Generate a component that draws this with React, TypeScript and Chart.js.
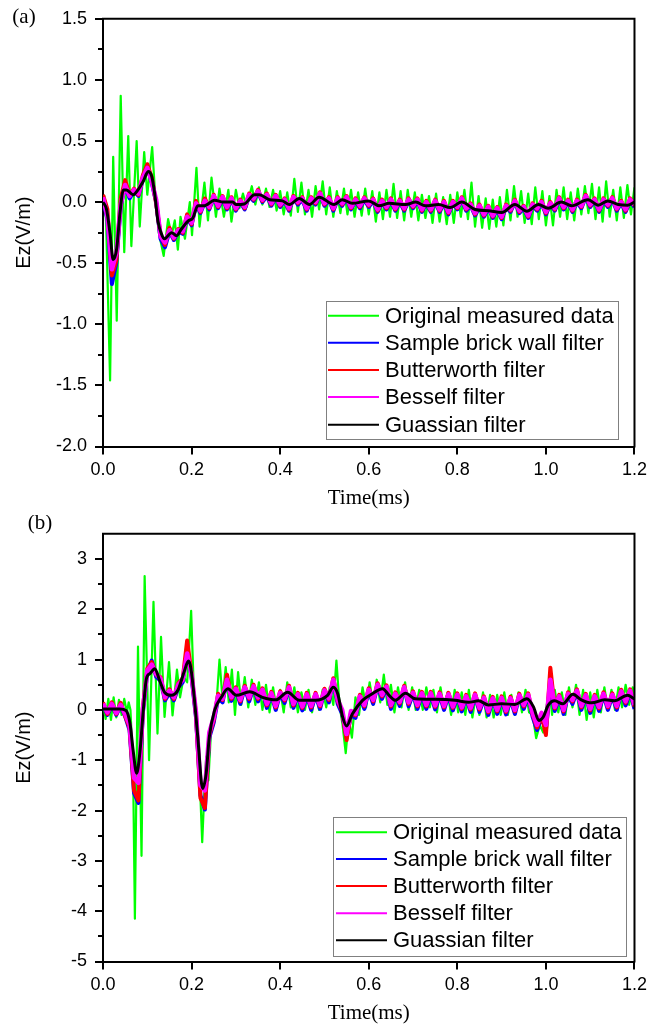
import React, { useEffect, useRef } from 'react';
import { Chart, registerables } from 'chart.js';

Chart.register(...registerables);

const SANS = '"Liberation Sans", Arial, Helvetica, sans-serif';
const SERIF = '"Liberation Serif", "Times New Roman", serif';

const SERIES_LABELS = [
  'Original measured data',
  'Sample brick wall filter',
  'Butterworth filter',
  'Besself filter',
  'Guassian filter',
];
const SERIES_COLORS = ['#00ff00', '#0000ff', '#ff0000', '#ff00ff', '#000000'];
const SERIES_WIDTHS = [2.2, 4, 4, 4.5, 3];

const X_LABEL = 'Time(ms)';
const Y_LABEL = 'Ez(V/m)';

// shared time grid (ms) of the filtered signals
const T_GRID = [
  0, 0.01, 0.02, 0.03, 0.04, 0.05, 0.06, 0.07, 0.08, 0.09,
  0.1, 0.11, 0.12, 0.13, 0.14, 0.15, 0.16, 0.17, 0.18, 0.19,
  0.2, 0.21, 0.22, 0.23, 0.24, 0.25, 0.26, 0.27, 0.28, 0.29,
  0.3, 0.31, 0.32, 0.33, 0.34, 0.35, 0.36, 0.37, 0.38, 0.39,
  0.4, 0.41, 0.42, 0.43, 0.44, 0.45, 0.46, 0.47, 0.48, 0.49,
  0.5, 0.51, 0.52, 0.53, 0.54, 0.55, 0.56, 0.57, 0.58, 0.59,
  0.6, 0.61, 0.62, 0.63, 0.64, 0.65, 0.66, 0.67, 0.68, 0.69,
  0.7, 0.71, 0.72, 0.73, 0.74, 0.75, 0.76, 0.77, 0.78, 0.79,
  0.8, 0.81, 0.82, 0.83, 0.84, 0.85, 0.86, 0.87, 0.88, 0.89,
  0.9, 0.91, 0.92, 0.93, 0.94, 0.95, 0.96, 0.97, 0.98, 0.99,
  1.0, 1.01, 1.02, 1.03, 1.04, 1.05, 1.06, 1.07, 1.08, 1.09,
  1.1, 1.11, 1.12, 1.13, 1.14, 1.15, 1.16, 1.17, 1.18, 1.19,
  1.2,
];

// ---------------- panel (a) ----------------
const A_GREEN: [number, number][] = [
  [0, 0], [0.003, 0.05], [0.007, -0.16], [0.016, -1.46], [0.023, 0.37], [0.031, -0.97],
  [0.04, 0.87], [0.048, -0.41], [0.057, 0.54], [0.064, -0.36], [0.076, 0.5], [0.083, -0.2],
  [0.093, 0.41], [0.1, 0.06], [0.111, 0.45], [0.118, 0.05], [0.126, -0.25], [0.137, -0.44],
  [0.147, -0.14], [0.155, -0.27], [0.162, -0.15], [0.169, -0.39], [0.175, -0.12], [0.185, -0.3],
  [0.196, 0.0], [0.201, -0.27], [0.211, 0.28], [0.218, -0.2], [0.229, 0.16], [0.237, -0.15],
  [0.245, 0.2], [0.255, -0.12], [0.263, 0.11], [0.273, -0.12], [0.283, 0.1], [0.29, -0.16],
  [0.3, 0.1], [0.308, -0.05], [0.316, 0.07], [0.324, -0.04], [0.336, 0.13], [0.344, -0.02],
  [0.352, 0.12], [0.36, -0.02], [0.368, 0.11], [0.376, -0.04], [0.384, 0.1], [0.392, -0.07],
  [0.4, 0.09], [0.408, -0.1], [0.416, 0.08], [0.424, -0.11], [0.432, 0.19], [0.44, -0.08],
  [0.448, 0.16], [0.456, -0.1], [0.464, 0.1], [0.472, -0.12], [0.48, 0.13], [0.488, -0.06],
  [0.496, 0.17], [0.504, -0.1], [0.512, 0.12], [0.52, -0.12], [0.528, 0.09], [0.536, -0.09],
  [0.544, 0.11], [0.552, -0.1], [0.56, 0.1], [0.568, -0.12], [0.576, 0.08], [0.584, -0.11],
  [0.592, 0.11], [0.6, -0.1], [0.608, 0.09], [0.616, -0.16], [0.624, 0.08], [0.632, -0.14],
  [0.64, 0.1], [0.648, -0.12], [0.656, 0.15], [0.664, -0.13], [0.672, 0.09], [0.68, -0.15],
  [0.688, 0.1], [0.696, -0.12], [0.704, 0.08], [0.712, -0.15], [0.72, 0.06], [0.728, -0.13],
  [0.736, 0.05], [0.744, -0.17], [0.752, 0.07], [0.76, -0.16], [0.768, 0.04], [0.776, -0.18],
  [0.784, 0.06], [0.792, -0.17], [0.8, 0.08], [0.808, -0.12], [0.816, 0.1], [0.824, -0.14],
  [0.832, 0.16], [0.84, -0.2], [0.848, 0.05], [0.856, -0.21], [0.864, 0.03], [0.872, -0.22],
  [0.88, 0.02], [0.888, -0.2], [0.896, 0.04], [0.904, -0.19], [0.912, 0.1], [0.92, -0.15],
  [0.928, 0.13], [0.936, -0.12], [0.944, 0.09], [0.952, -0.17], [0.96, 0.07], [0.968, -0.18],
  [0.976, 0.12], [0.984, -0.14], [0.992, 0.09], [1.0, -0.19], [1.008, 0.05], [1.016, -0.19],
  [1.024, 0.1], [1.032, -0.12], [1.04, 0.12], [1.048, -0.14], [1.056, 0.08], [1.064, -0.15],
  [1.072, 0.11], [1.08, -0.1], [1.088, 0.13], [1.096, -0.09], [1.104, 0.15], [1.112, -0.14],
  [1.12, 0.12], [1.128, -0.16], [1.136, 0.17], [1.144, -0.12], [1.152, 0.1], [1.16, -0.15],
  [1.168, 0.12], [1.176, -0.13], [1.184, 0.14], [1.192, -0.1], [1.2, 0.12],
];

const A_BLUE = [
  0.02, -0.14, -0.67, -0.5, -0.03, 0.13, 0.03, 0.09, 0.05, 0.19,
  0.29, 0.16, 0.0, -0.3, -0.37, -0.24, -0.31, -0.24, -0.26, -0.13,
  -0.19, -0.02, -0.09, 0.0, -0.06, 0.04, -0.05, 0.03, -0.06, 0.02,
  -0.07, 0.0, -0.06, 0.05, 0.01, 0.08, 0.0, 0.05, -0.03, 0.04,
  -0.04, 0.01, -0.07, 0.03, -0.02, 0.02, -0.07, 0.02, -0.02, 0.06,
  -0.03, 0.02, -0.07, 0.02, -0.03, 0.03, -0.06, 0.01, -0.05, 0.02,
  -0.04, 0.01, -0.08, 0.0, -0.06, 0.01, -0.07, 0.0, -0.07, 0.01,
  -0.05, 0.01, -0.08, -0.01, -0.08, 0.0, -0.08, -0.01, -0.1, -0.01,
  -0.06, 0.02, -0.07, -0.03, -0.11, -0.04, -0.12, -0.05, -0.13, -0.06,
  -0.14, -0.04, -0.08, 0.0, -0.09, -0.05, -0.13, -0.03, -0.07, -0.01,
  -0.1, -0.02, -0.07, 0.02, -0.06, 0.0, -0.08, 0.0, -0.05, 0.04,
  -0.04, 0.01, -0.08, 0.01, -0.04, 0.02, -0.07, -0.01, -0.08, 0.01,
  -0.04,
];

const A_RED = [
  0.06, -0.06, -0.6, -0.48, 0.03, 0.18, 0.06, 0.11, 0.06, 0.22,
  0.31, 0.2, -0.01, -0.27, -0.35, -0.21, -0.3, -0.22, -0.25, -0.1,
  -0.18, 0.01, -0.08, 0.03, -0.05, 0.06, -0.04, 0.05, -0.05, 0.04,
  -0.06, 0.02, -0.05, 0.07, 0.02, 0.1, 0.01, 0.07, -0.02, 0.06,
  -0.03, 0.03, -0.06, 0.05, -0.01, 0.04, -0.06, 0.04, -0.01, 0.08,
  -0.02, 0.04, -0.06, 0.04, -0.02, 0.05, -0.05, 0.03, -0.04, 0.04,
  -0.03, 0.03, -0.07, 0.02, -0.05, 0.03, -0.06, 0.02, -0.06, 0.03,
  -0.04, 0.03, -0.07, 0.01, -0.07, 0.02, -0.07, 0.01, -0.09, 0.01,
  -0.05, 0.04, -0.06, -0.01, -0.1, -0.02, -0.11, -0.03, -0.12, -0.04,
  -0.13, -0.02, -0.07, 0.02, -0.08, -0.03, -0.12, -0.01, -0.06, 0.01,
  -0.09, 0.0, -0.06, 0.04, -0.05, 0.02, -0.07, 0.02, -0.04, 0.06,
  -0.03, 0.03, -0.07, 0.03, -0.03, 0.04, -0.06, 0.01, -0.07, 0.03,
  -0.03,
];

const A_MAGENTA = [
  0.04, -0.12, -0.55, -0.42, -0.02, 0.14, 0.05, 0.1, 0.07, 0.2,
  0.28, 0.17, 0.02, -0.28, -0.33, -0.23, -0.29, -0.23, -0.24, -0.12,
  -0.17, -0.01, -0.07, 0.01, -0.04, 0.05, -0.03, 0.04, -0.04, 0.03,
  -0.05, 0.01, -0.04, 0.06, 0.03, 0.09, 0.02, 0.06, -0.01, 0.05,
  -0.02, 0.02, -0.05, 0.04, 0.0, 0.03, -0.05, 0.03, 0.0, 0.07,
  -0.01, 0.03, -0.05, 0.03, -0.01, 0.04, -0.04, 0.02, -0.03, 0.03,
  -0.02, 0.02, -0.06, 0.01, -0.04, 0.02, -0.05, 0.01, -0.05, 0.02,
  -0.03, 0.02, -0.06, 0.0, -0.06, 0.01, -0.06, 0.0, -0.08, 0.0,
  -0.04, 0.03, -0.05, -0.02, -0.09, -0.03, -0.1, -0.04, -0.11, -0.05,
  -0.12, -0.03, -0.06, 0.01, -0.07, -0.04, -0.11, -0.02, -0.05, 0.0,
  -0.08, -0.01, -0.05, 0.03, -0.04, 0.01, -0.06, 0.01, -0.03, 0.05,
  -0.02, 0.02, -0.06, 0.02, -0.02, 0.03, -0.05, 0.0, -0.06, 0.02,
  -0.02,
];

const A_BLACK: [number, number][] = [
  [0, 0], [0.008, -0.06], [0.016, -0.26], [0.023, -0.47], [0.031, -0.38], [0.038, -0.1],
  [0.046, 0.1], [0.053, 0.1], [0.068, 0.06], [0.079, 0.1], [0.091, 0.17], [0.102, 0.25],
  [0.11, 0.21], [0.117, 0.06], [0.124, -0.155], [0.132, -0.26], [0.139, -0.3], [0.155, -0.25],
  [0.166, -0.275], [0.177, -0.22], [0.192, -0.155], [0.203, -0.13], [0.214, -0.03], [0.229, -0.03],
  [0.252, 0.016], [0.271, 0], [0.293, 0], [0.3, -0.02], [0.319, -0.015], [0.342, 0.06],
  [0.353, 0.06], [0.376, 0.02], [0.405, 0.01], [0.421, -0.02], [0.443, 0.03], [0.466, -0.02],
  [0.488, 0.04], [0.522, -0.02], [0.54, 0.02], [0.563, -0.01], [0.6, 0.01], [0.623, -0.03],
  [0.646, -0.01], [0.683, -0.02], [0.706, 0.0], [0.728, -0.03], [0.758, -0.02], [0.784, -0.045],
  [0.81, 0.0], [0.84, -0.06], [0.87, -0.07], [0.9, -0.085], [0.93, -0.02], [0.957, -0.075],
  [0.983, -0.02], [1.005, -0.05], [1.035, 0.0], [1.058, -0.03], [1.095, 0.02], [1.118, -0.025],
  [1.14, 0.01], [1.163, -0.02], [1.185, -0.025], [1.2, 0.0],
];

// ---------------- panel (b) ----------------
const B_GREEN: [number, number][] = [
  [0, 0.15], [0.006, -0.18], [0.012, 0.22], [0.018, -0.2], [0.024, 0.25], [0.03, -0.15],
  [0.036, 0.2], [0.042, -0.1], [0.048, 0.22], [0.054, -0.05], [0.058, 0.15], [0.062, 0.0],
  [0.068, -1.2], [0.072, -4.15], [0.079, 1.26], [0.087, -2.9], [0.094, 2.66], [0.104, -1.0],
  [0.114, 2.15], [0.123, -0.47], [0.131, 1.45], [0.139, -0.14], [0.149, 0.95], [0.157, -0.11],
  [0.167, 0.8], [0.174, 0.25], [0.182, 0.65], [0.19, 0.55], [0.199, 1.97], [0.205, 0.4],
  [0.212, -0.6], [0.218, -1.3], [0.224, -2.63], [0.229, -1.6], [0.233, -0.93], [0.238, -1.4],
  [0.244, -0.4], [0.25, -0.3], [0.256, 0.1], [0.263, 1.0], [0.27, 0.2], [0.277, 0.85],
  [0.284, 0.15], [0.291, 0.8], [0.298, -0.1], [0.305, 0.75], [0.312, 0.1], [0.32, 0.65],
  [0.328, 0.05], [0.336, 0.6], [0.344, 0.1], [0.352, 0.55], [0.36, 0.0], [0.368, 0.5],
  [0.376, -0.05], [0.384, 0.45], [0.392, 0.0], [0.4, 0.4], [0.408, -0.05], [0.416, 0.55],
  [0.424, 0.05], [0.432, 0.45], [0.44, -0.05], [0.448, 0.35], [0.456, 0.0], [0.464, 0.4],
  [0.472, -0.05], [0.48, 0.35], [0.488, 0.0], [0.496, 0.4], [0.504, 0.05], [0.512, 0.45],
  [0.52, 0.1], [0.527, 0.98], [0.534, 0.1], [0.541, -0.3], [0.548, -0.86], [0.555, -0.2],
  [0.562, -0.55], [0.57, 0.25], [0.578, -0.1], [0.586, 0.45], [0.594, 0.05], [0.602, 0.55],
  [0.61, 0.1], [0.618, 0.6], [0.626, 0.15], [0.634, 0.7], [0.642, 0.1], [0.65, 0.5],
  [0.658, -0.05], [0.666, 0.45], [0.674, 0.05], [0.682, 0.55], [0.69, 0.0], [0.698, 0.45],
  [0.706, 0.0], [0.714, 0.4], [0.722, 0.0], [0.73, 0.45], [0.738, 0.05], [0.746, 0.4],
  [0.754, -0.05], [0.762, 0.45], [0.77, 0.0], [0.778, 0.35], [0.786, -0.1], [0.794, 0.4],
  [0.802, -0.05], [0.81, 0.35], [0.818, -0.1], [0.826, 0.4], [0.834, -0.15], [0.842, 0.3],
  [0.85, -0.1], [0.858, 0.35], [0.866, -0.15], [0.874, 0.3], [0.882, -0.15], [0.89, 0.3],
  [0.898, -0.1], [0.906, 0.35], [0.914, -0.1], [0.922, 0.3], [0.93, -0.1], [0.938, 0.35],
  [0.946, -0.05], [0.954, 0.4], [0.962, -0.05], [0.97, -0.1], [0.978, -0.56], [0.986, -0.3],
  [0.994, -0.45], [1.002, 0.1], [1.008, 0.45], [1.014, -0.1], [1.02, 0.4], [1.028, -0.05],
  [1.036, 0.35], [1.044, -0.1], [1.052, 0.45], [1.06, 0.05], [1.068, 0.5], [1.076, -0.1],
  [1.084, 0.4], [1.092, -0.2], [1.1, 0.35], [1.108, -0.15], [1.116, 0.4], [1.124, -0.05],
  [1.132, 0.45], [1.14, 0.0], [1.148, 0.4], [1.156, 0.0], [1.164, 0.45], [1.172, 0.05],
  [1.18, 0.5], [1.188, 0.1], [1.196, 0.45], [1.2, 0.2],
];

const B_BLUE = [
  0.1, -0.1, 0.1, -0.1, 0.08, -0.13, -0.4, -1.65, -1.85, -0.05,
  0.76, 0.98, 0.66, 0.58, 0.19, 0.33, 0.19, 0.45, 0.55, 1.2,
  0.65, -0.15, -1.7, -1.98, -0.55, -0.25, 0.24, 0.15, 0.62, 0.18,
  0.4, 0.12, 0.43, 0.17, 0.45, 0.17, 0.38, 0.04, 0.31, 0.0,
  0.32, 0.14, 0.43, 0.04, 0.29, -0.01, 0.29, 0.0, 0.29, 0.02,
  0.37, 0.15, 0.58, 0.12, -0.08, -0.55, -0.1, -0.16, 0.25, 0.02,
  0.38, 0.12, 0.48, 0.22, 0.44, 0.02, 0.3, 0.08, 0.43, 0.07,
  0.32, 0.02, 0.31, 0.02, 0.31, 0.01, 0.3, 0.0, 0.29, -0.01,
  0.28, -0.03, 0.25, -0.04, 0.28, -0.04, 0.22, -0.1, 0.21, -0.08,
  0.22, -0.09, 0.21, -0.08, 0.27, 0.02, 0.28, -0.14, -0.4, -0.14,
  -0.4, 0.45, -0.02, 0.25, -0.08, 0.3, 0.12, 0.36, 0.0, 0.27,
  -0.06, 0.25, -0.02, 0.3, 0.0, 0.28, 0.0, 0.35, 0.09, 0.36,
  0.02,
];

const B_RED = [
  0.15, -0.08, 0.15, -0.08, 0.14, -0.12, -0.35, -1.6, -1.8, 0.05,
  0.82, 0.95, 0.7, 0.65, 0.22, 0.41, 0.22, 0.53, 0.62, 1.38,
  0.72, -0.1, -1.75, -1.95, -0.5, -0.2, 0.32, 0.2, 0.7, 0.22,
  0.45, 0.17, 0.48, 0.22, 0.5, 0.22, 0.43, 0.09, 0.36, 0.05,
  0.37, 0.19, 0.48, 0.09, 0.34, 0.04, 0.34, 0.05, 0.34, 0.07,
  0.42, 0.2, 0.63, 0.17, -0.03, -0.6, -0.05, -0.11, 0.3, 0.07,
  0.43, 0.17, 0.53, 0.27, 0.49, 0.07, 0.35, 0.13, 0.48, 0.12,
  0.37, 0.07, 0.36, 0.07, 0.36, 0.06, 0.35, 0.05, 0.34, 0.04,
  0.33, 0.02, 0.3, 0.01, 0.33, 0.01, 0.27, -0.05, 0.26, -0.03,
  0.27, -0.04, 0.26, -0.03, 0.32, 0.07, 0.33, -0.09, -0.35, -0.09,
  -0.5, 0.84, 0.03, 0.3, -0.03, 0.35, 0.17, 0.41, 0.05, 0.32,
  -0.01, 0.3, 0.03, 0.35, 0.05, 0.33, 0.05, 0.4, 0.14, 0.41,
  0.07,
];

const B_MAGENTA = [
  0.12, -0.05, 0.12, -0.06, 0.1, -0.08, -0.3, -1.35, -1.45, 0.0,
  0.78, 0.9, 0.72, 0.62, 0.25, 0.38, 0.25, 0.5, 0.6, 1.12,
  0.7, -0.05, -1.5, -1.6, -0.45, -0.15, 0.28, 0.22, 0.6, 0.25,
  0.42, 0.2, 0.45, 0.25, 0.47, 0.25, 0.4, 0.12, 0.33, 0.08,
  0.34, 0.22, 0.45, 0.12, 0.31, 0.07, 0.31, 0.08, 0.31, 0.1,
  0.39, 0.23, 0.6, 0.2, 0.0, -0.48, -0.02, -0.08, 0.27, 0.1,
  0.4, 0.2, 0.5, 0.3, 0.46, 0.1, 0.32, 0.16, 0.45, 0.15,
  0.34, 0.1, 0.33, 0.1, 0.33, 0.09, 0.32, 0.08, 0.31, 0.07,
  0.3, 0.05, 0.27, 0.04, 0.3, 0.04, 0.24, -0.02, 0.23, 0.0,
  0.24, -0.01, 0.23, 0.0, 0.29, 0.1, 0.3, -0.06, -0.3, -0.06,
  -0.3, 0.6, 0.06, 0.27, 0.0, 0.32, 0.2, 0.38, 0.08, 0.29,
  0.02, 0.27, 0.06, 0.32, 0.08, 0.3, 0.08, 0.37, 0.17, 0.38,
  0.1,
];

const B_BLACK: [number, number][] = [
  [0, 0.02], [0.016, 0.02], [0.038, 0.02], [0.052, -0.01], [0.061, -0.27], [0.068, -0.8],
  [0.076, -1.26], [0.083, -0.87], [0.091, -0.01], [0.098, 0.62], [0.106, 0.72], [0.117, 0.82],
  [0.128, 0.58], [0.139, 0.35], [0.154, 0.29], [0.169, 0.39], [0.184, 0.78], [0.193, 0.97],
  [0.198, 0.85], [0.206, 0.25], [0.214, -0.54], [0.225, -1.56], [0.233, -1.26], [0.24, -0.54],
  [0.252, -0.01], [0.267, 0.25], [0.282, 0.42], [0.301, 0.29], [0.331, 0.36], [0.36, 0.25],
  [0.39, 0.2], [0.417, 0.35], [0.443, 0.19], [0.48, 0.19], [0.507, 0.29], [0.52, 0.45],
  [0.53, 0.32], [0.541, -0.14], [0.55, -0.32], [0.563, -0.08], [0.586, 0.19], [0.608, 0.32],
  [0.631, 0.42], [0.646, 0.29], [0.66, 0.19], [0.683, 0.33], [0.705, 0.22], [0.75, 0.21],
  [0.795, 0.19], [0.825, 0.15], [0.848, 0.18], [0.87, 0.1], [0.9, 0.12], [0.93, 0.11],
  [0.957, 0.22], [0.972, 0.06], [0.984, -0.21], [0.994, -0.14], [1.005, 0.09], [1.02, 0.18],
  [1.038, 0.12], [1.061, 0.31], [1.08, 0.2], [1.103, 0.14], [1.133, 0.2], [1.155, 0.18],
  [1.184, 0.29], [1.2, 0.22],
];

type LegendCfg = {
  box: [number, number, number, number];
  lineX: [number, number];
  textX: number;
  rows: number[];
};

type PanelCfg = {
  letter: string;
  letterPos: [number, number];
  top: number;
  green: [number, number][];
  blue: number[];
  red: number[];
  magenta: number[];
  black: [number, number][];
  yMin: number;
  yMax: number;
  yStep: number;
  yMajor: number;
  yDecimals: number;
  legend: LegendCfg;
};

const W = 652;
const H = 515;

function Panel({ cfg }: { cfg: PanelCfg }) {
  const ref = useRef<HTMLCanvasElement | null>(null);

  useEffect(() => {
    if (!ref.current) return;
    const grid = (vals: number[]) => T_GRID.map((t, i) => ({ x: t, y: vals[i] }));
    const pairs = (p: [number, number][]) => p.map(([x, y]) => ({ x, y }));
    const isMajor = (v: number) =>
      Math.abs(v / cfg.yMajor - Math.round(v / cfg.yMajor)) < 1e-6;

    const seriesData = [
      pairs(cfg.green),
      grid(cfg.blue),
      grid(cfg.red),
      grid(cfg.magenta),
      pairs(cfg.black),
    ];

    const datasets = seriesData.map((d, i) => ({
      label: SERIES_LABELS[i],
      data: d,
      borderColor: SERIES_COLORS[i],
      backgroundColor: SERIES_COLORS[i],
      borderWidth: SERIES_WIDTHS[i],
      pointRadius: 0,
      fill: false,
      tension: i === 4 ? 0.4 : 0,
      cubicInterpolationMode: i === 4 ? ('monotone' as const) : ('default' as const),
      borderJoinStyle: 'round' as const,
      order: 5 - i,
    }));

    const framePlugin = {
      id: 'framePlugin',
      afterDraw(chart: any) {
        const { ctx, chartArea: a, scales } = chart;
        ctx.save();
        // top & right frame
        ctx.strokeStyle = '#000';
        ctx.lineWidth = 2;
        ctx.beginPath();
        ctx.moveTo(a.left - 1, a.top);
        ctx.lineTo(a.right, a.top);
        ctx.lineTo(a.right, a.bottom + 1);
        ctx.stroke();
        // minor ticks on y
        const ys = scales.y;
        ctx.beginPath();
        ys.ticks.forEach((t: any) => {
          if (isMajor(t.value)) return;
          if (t.value <= cfg.yMin + 1e-9 || t.value >= cfg.yMax - 1e-9) return;
          const py = Math.round(ys.getPixelForValue(t.value));
          ctx.moveTo(a.left - 5, py);
          ctx.lineTo(a.left, py);
        });
        ctx.stroke();

        // legend
        const L = cfg.legend;
        ctx.fillStyle = '#fff';
        ctx.fillRect(L.box[0], L.box[1], L.box[2] - L.box[0], L.box[3] - L.box[1]);
        ctx.strokeStyle = '#808080';
        ctx.lineWidth = 1;
        ctx.strokeRect(L.box[0] + 0.5, L.box[1] + 0.5, L.box[2] - L.box[0], L.box[3] - L.box[1]);
        ctx.font = `22px ${SANS}`;
        ctx.textBaseline = 'middle';
        ctx.textAlign = 'left';
        SERIES_LABELS.forEach((lab, i) => {
          const y = L.rows[i];
          ctx.strokeStyle = SERIES_COLORS[i];
          ctx.lineWidth = 2;
          ctx.beginPath();
          ctx.moveTo(L.lineX[0], y);
          ctx.lineTo(L.lineX[1], y);
          ctx.stroke();
          ctx.fillStyle = '#000';
          ctx.fillText(lab, L.textX, y + 1);
        });

        // panel letter
        ctx.font = `21px ${SERIF}`;
        ctx.textAlign = 'center';
        ctx.fillStyle = '#000';
        ctx.fillText(cfg.letter, cfg.letterPos[0], cfg.letterPos[1]);
        ctx.restore();
      },
    };

    const chart = new Chart(ref.current, {
      type: 'line',
      data: { datasets: datasets as any },
      options: {
        animation: false,
        responsive: false,
        events: [],
        layout: { padding: { top: 17, right: 15.5, left: 0, bottom: 0 } },
        plugins: { legend: { display: false }, tooltip: { enabled: false } },
        scales: {
          x: {
            type: 'linear',
            min: 0,
            max: 1.2,
            afterFit: (s: any) => {
              s.height = 68.5;
            },
            ticks: {
              stepSize: 0.2,
              autoSkip: false,
              maxRotation: 0,
              padding: 5,
              color: '#000',
              font: { family: SANS, size: 18 },
              callback: (v: any) => Number(v).toFixed(1),
            },
            grid: {
              drawOnChartArea: false,
              drawTicks: true,
              tickLength: 8,
              lineWidth: 2,
              color: '#000',
            },
            border: { display: true, color: '#000', width: 2 },
            title: {
              display: true,
              text: X_LABEL,
              color: '#000',
              font: { family: SERIF, size: 21 },
              padding: { top: 0, bottom: 3.5 },
            },
          },
          y: {
            type: 'linear',
            min: cfg.yMin,
            max: cfg.yMax,
            afterFit: (s: any) => {
              s.width = 103;
            },
            ticks: {
              stepSize: cfg.yStep,
              autoSkip: false,
              padding: 8,
              color: '#000',
              font: { family: SANS, size: 18 },
              callback: (v: any) => (isMajor(Number(v)) ? Number(v).toFixed(cfg.yDecimals) : ''),
            },
            grid: {
              drawOnChartArea: false,
              drawTicks: true,
              tickLength: 8,
              lineWidth: 2,
              color: (c: any) =>
                c.tick && !isMajor(c.tick.value) ? 'rgba(0,0,0,0)' : '#000',
            },
            border: { display: true, color: '#000', width: 2 },
            title: {
              display: true,
              text: Y_LABEL,
              color: '#000',
              font: { family: SANS, size: 20 },
              padding: { top: 12, bottom: 0 },
            },
          },
        },
      },
      plugins: [framePlugin],
    });
    return () => chart.destroy();
  }, [cfg]);

  return (
    <canvas
      ref={ref}
      width={W}
      height={H}
      style={{ position: 'absolute', left: 0, top: cfg.top, width: W, height: H, display: 'block' }}
    />
  );
}

const PANEL_A: PanelCfg = {
  letter: '(a)',
  letterPos: [24, 17],
  top: 0,
  green: A_GREEN,
  blue: A_BLUE,
  red: A_RED,
  magenta: A_MAGENTA,
  black: A_BLACK,
  yMin: -2,
  yMax: 1.5,
  yStep: 0.25,
  yMajor: 0.5,
  yDecimals: 1,
  legend: {
    box: [326, 301, 618, 439],
    lineX: [328, 379],
    textX: 385,
    rows: [315.7, 342.7, 370, 397, 424.7],
  },
};

const PANEL_B: PanelCfg = {
  letter: '(b)',
  letterPos: [40, 8],
  top: 515,
  green: B_GREEN,
  blue: B_BLUE,
  red: B_RED,
  magenta: B_MAGENTA,
  black: B_BLACK,
  yMin: -5,
  yMax: 3.5,
  yStep: 0.5,
  yMajor: 1,
  yDecimals: 0,
  legend: {
    box: [333, 302, 626, 441],
    lineX: [336, 387],
    textX: 393,
    rows: [317.3, 344, 371, 398.3, 425.3],
  },
};

export default function App() {
  return (
    <div style={{ position: 'absolute', left: 0, top: 0, width: W, height: 1030, background: '#fff' }}>
      <Panel cfg={PANEL_A} />
      <Panel cfg={PANEL_B} />
    </div>
  );
}
